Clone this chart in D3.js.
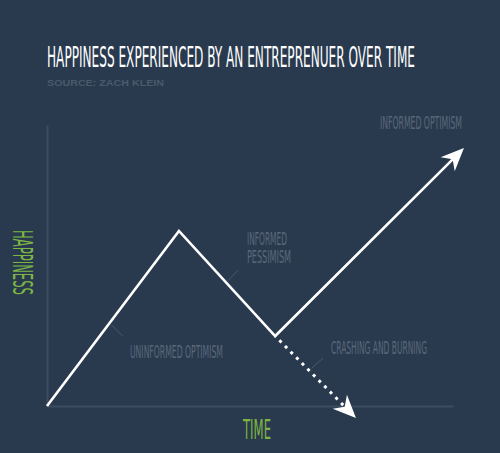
<!DOCTYPE html>
<html>
<head>
<meta charset="utf-8">
<script src="https://cdn.jsdelivr.net/npm/d3@7"></script>
<style>
  html, body { margin: 0; padding: 0; background: #293a4f; }
  svg { display: block; }
</style>
</head>
<body>
<div id="chart"></div>
<script>
// chart data
const title = 'HAPPINESS EXPERIENCED BY AN ENTREPRENUER OVER TIME'
const source = 'SOURCE: ZACH KLEIN'
const axisLabels = ['TIME', 'HAPPINESS']
const time = [0, 32.5, 56.2, 102.7]
const happiness = [0, 62.3, 24.9, 91.8]
const crashTime = [56.2, 76.1]
const crashHappiness = [24.9, -4.3]
const phases = ['UNINFORMED OPTIMISM', 'INFORMED|PESSIMISM', 'INFORMED OPTIMISM', 'CRASHING AND BURNING']

const width = 500
const height = 453
const margin = { top: 125, right: 47, bottom: 47, left: 47 }

const svg = d3
  .select('#chart')
  .append('svg')
  .attr('width', width)
  .attr('height', height)

svg.append('rect').attr('width', width).attr('height', height).attr('fill', '#293a4f')

const x = d3.scaleLinear().domain([0, 100]).range([margin.left, width - margin.right])
const y = d3.scaleLinear().domain([0, 100]).range([height - margin.bottom, margin.top])

const condensed = "'Liberation Sans Narrow', 'DejaVu Sans Condensed', 'Roboto', sans-serif"

// title + source
svg.append('text')
  .attr('x', 47).attr('y', 67)
  .attr('font-family', condensed).attr('font-size', 28)
  .attr('textLength', 368).attr('lengthAdjust', 'spacingAndGlyphs')
  .attr('fill', '#ffffff')
  .text(title)

svg.append('text')
  .attr('x', 47).attr('y', 86)
  .attr('font-family', "'Liberation Sans', Arial, sans-serif").attr('font-size', 8.6)
  .attr('font-weight', 'bold')
  .attr('textLength', 117).attr('lengthAdjust', 'spacingAndGlyphs')
  .attr('fill', '#4b596b')
  .text(source)

// axes, no ticks
const axisColor = '#3d4d61'
const xAxis = svg.append('g')
  .attr('transform', `translate(0, ${y(0)})`)
  .call(d3.axisBottom(x).ticks(0).tickSizeOuter(0))
const yAxis = svg.append('g')
  .attr('transform', `translate(${x(0)}, 0)`)
  .call(d3.axisLeft(y).ticks(0).tickSizeOuter(0))
svg.selectAll('.domain').attr('stroke', axisColor).attr('stroke-width', 2)

// axis labels
svg.append('text')
  .attr('x', 243).attr('y', 439)
  .attr('font-family', condensed).attr('font-size', 26)
  .attr('textLength', 28).attr('lengthAdjust', 'spacingAndGlyphs')
  .attr('fill', '#7db544')
  .text(axisLabels[0])

svg.append('text')
  .attr('transform', 'translate(13, 230) rotate(90)')
  .attr('font-family', condensed).attr('font-size', 26)
  .attr('textLength', 65).attr('lengthAdjust', 'spacingAndGlyphs')
  .attr('fill', '#7db544')
  .text(axisLabels[1])

// arrow head
const defs = svg.append('defs')
defs.append('marker')
  .attr('id', 'head')
  .attr('markerUnits', 'userSpaceOnUse')
  .attr('viewBox', '-14 -12 30 24')
  .attr('markerWidth', 30).attr('markerHeight', 24)
  .attr('refX', 0).attr('refY', 0)
  .attr('orient', 'auto')
  .append('path')
  .attr('d', 'M11,0 L-12,-10 L-5,0 L-12,10 Z')
  .attr('fill', '#ffffff')

// shorten the last segment so the stroke hides under the head
const shorten = (pts, d) => {
  const a = pts[pts.length - 2]
  const b = pts[pts.length - 1]
  const len = Math.hypot(b[0] - a[0], b[1] - a[1])
  const out = pts.slice(0, -1)
  out.push([b[0] - (b[0] - a[0]) * d / len, b[1] - (b[1] - a[1]) * d / len])
  return out
}

const mainPts = time.map((t, i) => [x(t), y(happiness[i])])
const crashPts = crashTime.map((t, i) => [x(t), y(crashHappiness[i])])

const line = d3.line()

svg.append('path')
  .attr('d', line(shorten(mainPts, 11)))
  .attr('fill', 'none')
  .attr('stroke', '#ffffff')
  .attr('stroke-width', 2.6)
  .attr('stroke-linejoin', 'miter')
  .attr('marker-end', 'url(#head)')

svg.append('path')
  .attr('d', line(shorten(crashPts, 11)))
  .attr('fill', 'none')
  .attr('stroke', '#ffffff')
  .attr('stroke-width', 3)
  .attr('stroke-dasharray', '3,5')
  .attr('stroke-dashoffset', -6)
  .attr('marker-end', 'url(#head)')

// annotations: label position + short leader line
const labelColor = '#5b6879'
const leaderColor = '#4a5a6d'
const notes = [
  { text: phases[0], x: 130, y: 358, len: 93, lead: [[111.7, 325], [122.7, 336]] },
  { text: phases[1], x: 247, y: 245, len: [40, 44], lead: [[228, 280.7], [238.3, 270]] },
  { text: phases[2], x: 380, y: 129, len: 82, lead: null },
  { text: phases[3], x: 331, y: 354, len: 96, lead: [[311.7, 368.3], [322.7, 358.3]] },
]

notes.forEach((n) => {
  const parts = n.text.split('|')
  parts.forEach((p, i) => {
    svg.append('text')
      .attr('x', n.x).attr('y', n.y + i * 18)
      .attr('font-family', condensed).attr('font-size', 17)
      .attr('textLength', Array.isArray(n.len) ? n.len[i] : n.len)
      .attr('lengthAdjust', 'spacingAndGlyphs')
      .attr('fill', labelColor)
      .text(p)
  })
  if (n.lead) {
    svg.append('path')
      .attr('d', line(n.lead))
      .attr('stroke', leaderColor)
      .attr('stroke-width', 1)
  }
})
</script>
</body>
</html>
